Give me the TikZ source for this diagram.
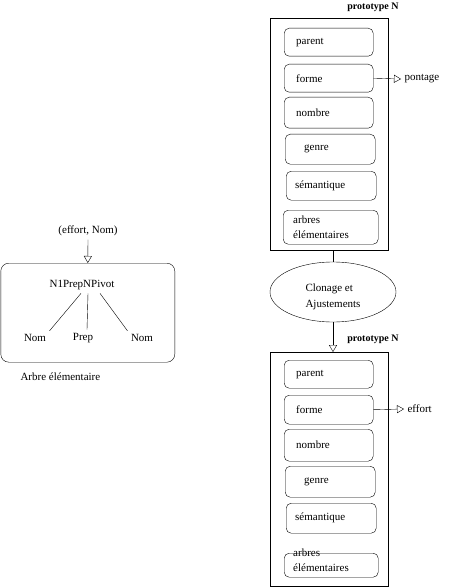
\documentclass[tikz,border=0pt]{standalone}
\usepackage{fontspec}
\setmainfont{Liberation Serif}
\usetikzlibrary{arrows.meta,shapes.geometric}

\tikzset{
	champ/.style={draw, rounded corners=5pt, anchor=north west, align=left,
		inner xsep=12pt, inner ysep=0pt, text width=65pt, minimum height=28pt},
	cadre/.style={draw, line width=1.4pt, anchor=north west, minimum width=118pt},
	fleche/.style={-{Triangle[open,length=7pt,width=8pt]}},
	titre/.style={font=\bfseries}
}

\begin{document}
\begin{tikzpicture}[x=1pt,y=-1pt,font=\fontsize{11}{14}\selectfont]
	\useasboundingbox (0,0) rectangle (460,588);

	% arbre elementaire
	\node[anchor=center] (ancre) at (88,231) {(effort, Nom)};
	\node[draw, rounded corners=8pt, anchor=north west,
		minimum width=174pt, minimum height=99pt] (arbre) at (0.6,263) {};
	\draw[fleche] (ancre.south) -- (arbre.north);
	\node[anchor=center] (racine) at (82,285) {N1PrepNPivot};
	\node[anchor=center] (nomG) at (35,338) {Nom};
	\node[anchor=center] (prep) at (83,338) {Prep};
	\node[anchor=center] (nomD) at (142,338) {Nom};
	\draw ([xshift=-1pt]racine.south) -- (nomG.north east);
	\draw ([xshift=6pt]racine.south) -- ([xshift=4pt]prep.north);
	\draw ([xshift=18pt]racine.south) -- (nomD.north west);
	\node[anchor=west] (legende) at (17,377) {Arbre élémentaire};

	% prototype du haut
	\node[titre, anchor=center] (titreA) at (373,7) {prototype N};
	\node[cadre, minimum height=232pt] (protoA) at (270,18) {};
	\node[champ] (parentA) at (284,28) {parent};
	\node[champ] (formeA) at (284,64) {forme};
	\node[champ, minimum height=31pt] (nombreA) at (284,97) {nombre};
	\node[champ, inner xsep=19pt, text width=52pt, minimum height=30pt] (genreA) at (285,134) {genre};
	\node[champ, inner xsep=9pt, text width=72pt, minimum height=29pt] (semA) at (286,171) {sémantique};
	\node[champ, inner xsep=10pt, text width=75pt, minimum height=34pt,
		font=\fontsize{11}{15}\selectfont] (arbresA) at (283,210) {arbres\\élémentaires};
	\node[anchor=west] (pontage) at (401,79) {pontage};
	\draw[fleche] (formeA.east) -- (pontage.west);

	% clonage
	\node[draw, ellipse, minimum width=126pt, minimum height=60pt] (clonage) at (333,292)
		{\raisebox{-5pt}[\height][\depth]{\begin{tabular}{@{}l@{}}Clonage et\\[2pt]Ajustements\end{tabular}}};
	\draw (clonage.north |- protoA.south) -- (clonage.north);

	% prototype du bas
	\node[titre, anchor=center] (titreB) at (373,339) {prototype N};
	\node[cadre, minimum height=234pt] (protoB) at (270,352) {};
	\draw[fleche] (clonage.south) -- (clonage.south |- protoB.north);
	\node[champ] (parentB) at (284,360) {parent};
	\node[champ, minimum height=29pt] (formeB) at (284,395) {forme};
	\node[champ, minimum height=32pt] (nombreB) at (284,429) {nombre};
	\node[champ, inner xsep=19pt, text width=52pt, minimum height=31pt] (genreB) at (285,466) {genre};
	\node[champ, inner xsep=9pt, text width=72pt, minimum height=30pt] (semB) at (286,503) {sémantique};
	\node[draw, rounded corners=5pt, anchor=north west,
		minimum width=94pt, minimum height=24pt] (arbresB) at (284,553) {};
	\node[anchor=west, align=left, inner xsep=0pt,
		font=\fontsize{11}{15}\selectfont] (arbresTxtB) at (293,560) {arbres\\élémentaires};
	\node[anchor=west] (effort) at (404,409) {effort};
	\draw[fleche] (formeB.east) -- (effort.west);
\end{tikzpicture}
\end{document}
